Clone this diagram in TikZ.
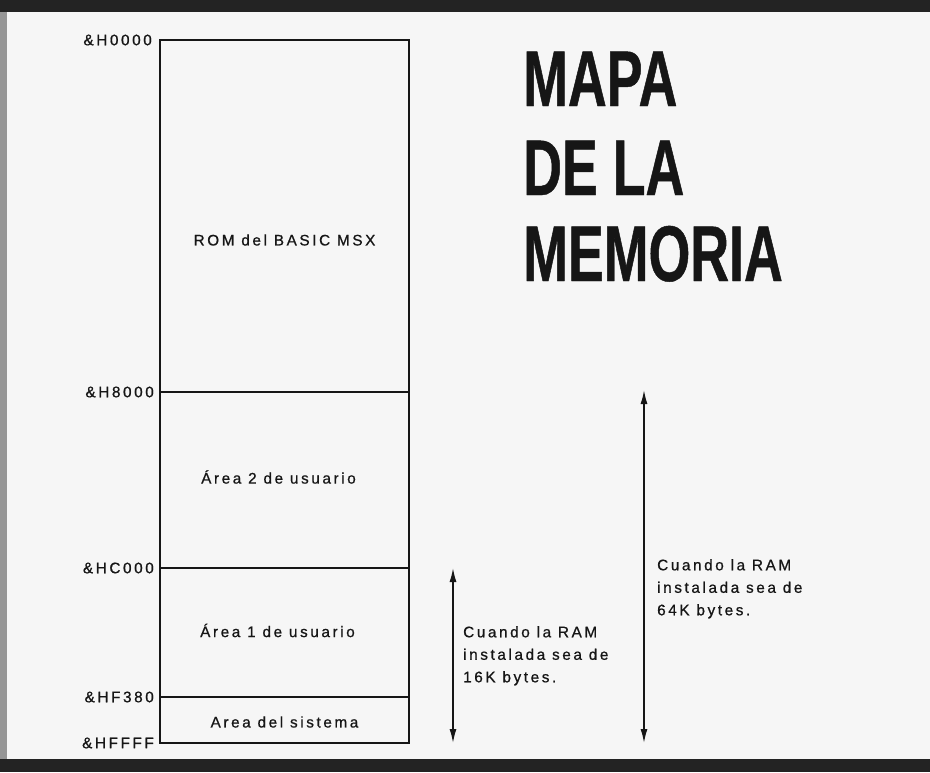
\documentclass[tikz,border=0pt]{standalone}
\usepackage{fontspec}
\setmainfont{Liberation Sans}
\newfontfamily\lblfont[LetterSpace=17, FakeBold=0.8]{Liberation Sans}
\newfontfamily\titlefont[FakeStretch=0.68, FakeBold=0.6]{Liberation Sans Bold}
\usetikzlibrary{arrows.meta, positioning}
\definecolor{scanbg}{RGB}{246, 246, 246}
\definecolor{inkblack}{RGB}{22, 22, 22}
\definecolor{edgedark}{RGB}{35, 35, 35}
\definecolor{edgegray}{RGB}{150, 150, 150}

\tikzset{
  memblock/.style={draw=inkblack, line width=1.8pt, minimum width=249pt, inner sep=0pt, outer sep=0pt},
  addrlabel/.style={inner sep=0pt, text=inkblack, font=\lblfont\fontsize{15.3}{18}\selectfont},
  blocklabel/.style={inner sep=0pt, text=inkblack, font=\lblfont\fontsize{15.3}{18}\selectfont},
  ramnote/.style={anchor=north west, align=left, inner sep=0pt, text=inkblack, font=\lblfont\fontsize{15.3}{22.5}\selectfont},
  sizearrow/.style={draw=inkblack, line width=1.5pt, {Latex[length=14pt, width=7pt]}-{Latex[length=14pt, width=7pt]}},
  titleline/.style={anchor=base west, inner sep=0pt, text=inkblack, font=\titlefont\fontsize{79}{85}\selectfont}
}

\begin{document}
\begin{tikzpicture}[x=1pt, y=-1pt]
  % Scanned page with dark edges
  \fill[scanbg] (0,0) rectangle (930,772);
  \fill[edgedark] (0,0) rectangle (930,12);
  \fill[edgedark] (0,759) rectangle (930,772);
  \fill[edgegray] (0,12) rectangle (7,759);
  \useasboundingbox (0,0) rectangle (930,772);

  % Memory blocks, stacked from &H0000 down
  \node[memblock, minimum height=352pt] (rom) at (284.5, 216) {};
  \node[memblock, minimum height=176pt, below=0pt of rom] (usr2) {};
  \node[memblock, minimum height=129pt, below=0pt of usr2] (usr1) {};
  \node[memblock, minimum height=46pt, below=0pt of usr1] (sys) {};

  \node[blocklabel] (romtext) at ([yshift=-24pt]rom.center) {ROM del BASIC MSX};
  \node[blocklabel] (usr2text) at ([xshift=-6pt, yshift=3pt]usr2.center) {Área 2 de usuario};
  \node[blocklabel] (usr1text) at ([xshift=-7pt, yshift=2pt]usr1.center) {Área 1 de usuario};
  \node[blocklabel] (systext) at ([yshift=-2pt]sys.center) {Area del sistema};

  % Addresses
  \node[addrlabel, left=8pt of rom.north west] (h0000) {\&H0000};
  \node[addrlabel, left=6pt of usr2.north west] (h8000) {\&H8000};
  \node[addrlabel, left=6pt of usr1.north west] (hc000) {\&HC000};
  \node[addrlabel, left=6pt of sys.north west] (hf380) {\&HF380};
  \node[addrlabel, left=6pt of sys.south west] (hffff) {\&HFFFF};

  % RAM size arrows
  \coordinate (ram16top) at ([xshift=44pt]usr1.north east);
  \coordinate (ram16bot) at ([xshift=44pt]sys.south east);
  \coordinate (ram64top) at ([xshift=235pt, yshift=2pt]usr2.north east);
  \coordinate (ram64bot) at ([xshift=235pt]sys.south east);
  \draw[sizearrow] (ram16top) -- (ram16bot);
  \draw[sizearrow] (ram64top) -- (ram64bot);

  \node[ramnote] (note16) at (463, 626) {Cuando la RAM\\instalada sea de\\16K bytes.};
  \node[ramnote] (note64) at (657, 559) {Cuando la RAM\\instalada sea de\\64K bytes.};

  % Title
  \node[titleline] (title1) at (523, 106) {MAPA};
  \node[titleline] (title2) at (523, 195) {DE LA};
  \node[titleline] (title3) at (523, 281) {MEMORIA};
\end{tikzpicture}
\end{document}
